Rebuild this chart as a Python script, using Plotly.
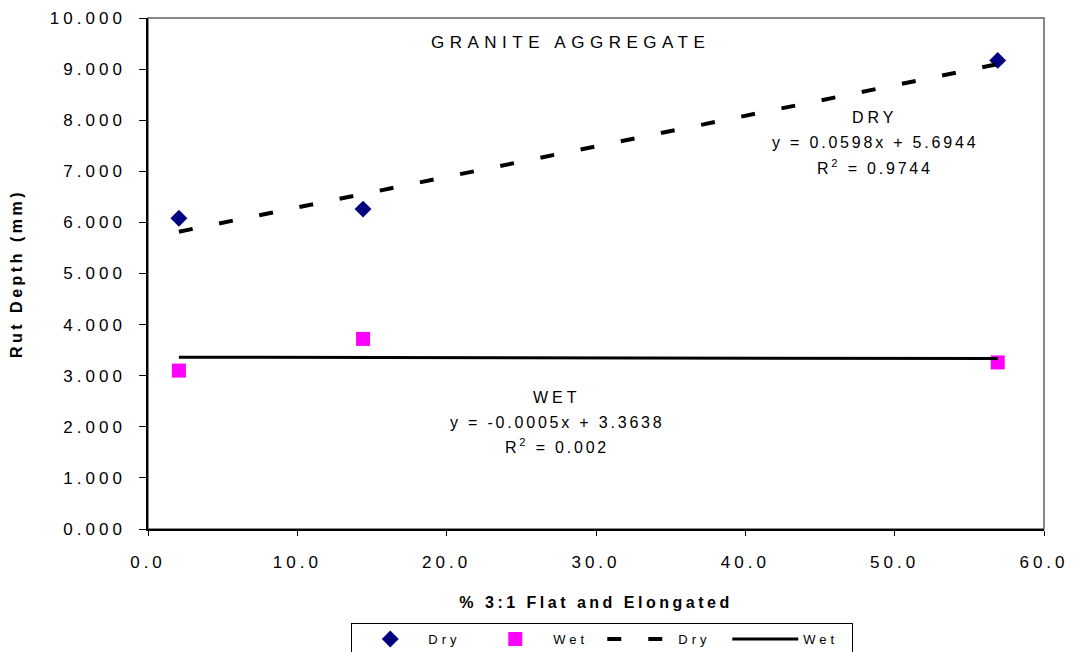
import numpy as np
import plotly.graph_objects as go

# Data
flat_elongated = [2.07, 14.4, 56.9]
dry_rut = [6.08, 6.26, 9.17]
wet_rut = [3.10, 3.72, 3.26]

dry_slope, dry_intercept, dry_r2 = 0.0598, 5.6944, 0.9744
wet_slope, wet_intercept, wet_r2 = -0.0005, 3.3638, 0.002

x_ticks = [0, 10, 20, 30, 40, 50, 60]
y_ticks = [0, 1, 2, 3, 4, 5, 6, 7, 8, 9, 10]

font_family = "Liberation Sans, Arial, sans-serif"


def ls(s, px):
    return f'<span style="letter-spacing:{px}px">{s}</span>'


xl = np.array([min(flat_elongated), max(flat_elongated)])

fig = go.Figure()
fig.add_trace(go.Scatter(x=flat_elongated, y=dry_rut, mode="markers", name=ls("Dry", 4),
                         marker=dict(symbol="diamond", size=13, color="#000080")))
fig.add_trace(go.Scatter(x=flat_elongated, y=wet_rut, mode="markers", name=ls("Wet", 4),
                         marker=dict(symbol="square", size=14, color="#FF00FF")))
fig.add_trace(go.Scatter(x=xl, y=dry_slope * xl + dry_intercept, mode="lines", name=ls("Dry", 4),
                         line=dict(color="black", width=4, dash="14px,27px")))
fig.add_trace(go.Scatter(x=xl, y=wet_slope * xl + wet_intercept, mode="lines", name=ls("Wet", 4),
                         line=dict(color="black", width=3)))

ann_font = dict(size=16, color="black", family=font_family)
fig.add_annotation(x=28.3, y=9.53, text=ls("GRANITE AGGREGATE", 5.5), showarrow=False,
                   font=dict(size=17, color="black", family=font_family))

dry_lines = [ls("DRY", 4), ls(f"y = {dry_slope}x + {dry_intercept}", 2.8),
             ls(f"R<sup>2</sup> = {dry_r2}", 2.8)]
wet_lines = [ls("WET", 4), ls(f"y = {wet_slope}x + {wet_intercept}", 2.8),
             ls(f"R<sup>2</sup> = {wet_r2}", 2.8)]
for txt, yv in zip(dry_lines, [8.06, 7.57, 7.08]):
    fig.add_annotation(x=48.7, y=yv, text=txt, showarrow=False, font=ann_font)
for txt, yv in zip(wet_lines, [2.58, 2.09, 1.62]):
    fig.add_annotation(x=27.4, y=yv, text=txt, showarrow=False, font=ann_font)

fig.add_shape(type="rect", xref="paper", yref="paper", x0=0, y0=0, x1=1, y1=1,
              line=dict(color="#606060", width=1.5), layer="below")

fig.update_layout(
    width=1073, height=652,
    margin=dict(l=140, r=37, t=10, b=131, autoexpand=False),
    paper_bgcolor="white", plot_bgcolor="white",
    font=dict(family=font_family, size=16, color="black"),
    showlegend=True,
    legend=dict(orientation="h", x=0.507, xanchor="center", y=-0.184, yanchor="top",
                bordercolor="black", borderwidth=1, bgcolor="white",
                font=dict(size=13, family=font_family),
                itemwidth=66, entrywidth=44, entrywidthmode="pixels",
                itemclick=False, itemdoubleclick=False),
)
fig.update_xaxes(range=[0, 60], tickvals=x_ticks, ticktext=[ls(f"{v:.1f}", 4) for v in x_ticks],
                 showgrid=False, zeroline=False, showline=True, linecolor="black", linewidth=1.5,
                 ticks="outside", ticklen=5, tickcolor="black", automargin=False,
                 ticklabelstandoff=12,
                 title=dict(text="<b>" + ls("% 3:1 Flat and Elongated", 3.5) + "</b>",
                            font=dict(size=16), standoff=26),
                 tickfont=dict(size=17))
fig.update_yaxes(range=[0, 10], tickvals=y_ticks, ticktext=[ls(f"{v:.3f}", 4) for v in y_ticks],
                 showgrid=False, zeroline=False, showline=True, linecolor="black", linewidth=1.5,
                 ticks="outside", ticklen=7, tickcolor="black", automargin=False,
                 ticklabelstandoff=10, ticklabeloverflow="allow",
                 title=dict(text="<b>" + ls("Rut Depth (mm)", 3.5) + "</b>",
                            font=dict(size=16), standoff=31),
                 tickfont=dict(size=17))

fig.write_html("out.html")
